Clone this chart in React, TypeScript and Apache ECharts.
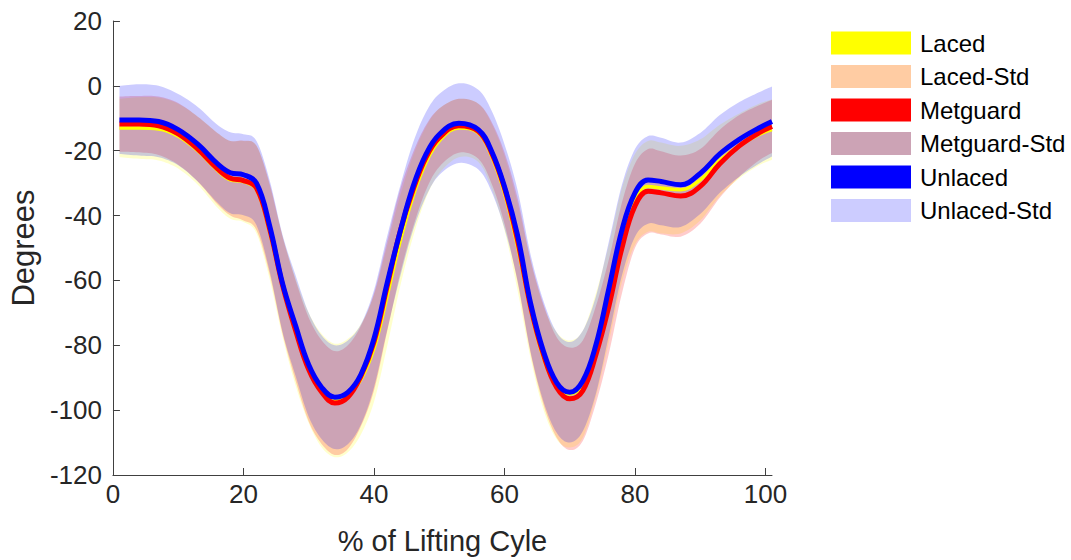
import React, { useEffect, useRef } from "react";
import * as echarts from "echarts";

const xPoints = [1, 4, 7, 10, 13, 16, 18, 20, 22, 24, 26, 28, 30, 32, 34, 36, 38, 40, 42, 44, 46, 48, 50, 53, 56, 58, 60, 62, 64, 66, 68, 70, 72, 74, 76, 78, 80, 82, 84, 87, 90, 93, 96, 99, 101];

const lacedMean = [-13, -13, -13.3, -15.5, -20, -26, -29, -29.5, -32, -45, -62, -76, -87, -94, -97, -95.5, -90.5, -81, -65, -48, -34, -23.5, -17, -13, -14.5, -21.5, -33, -49.5, -69, -84, -92.5, -95, -92, -80, -64, -46, -35, -31, -31.5, -32, -29, -23, -18.5, -15, -13.5];
const metguardMean = [-11.8, -11.8, -12.3, -14.8, -19.5, -25.5, -28.5, -29.2, -31.5, -44, -61.5, -75.5, -87.5, -94.5, -97.8, -96, -89.5, -79, -62, -45, -32, -22, -16, -12.3, -14, -20.5, -31.5, -47.5, -68, -83, -93, -96.5, -94, -83, -68, -50, -37, -32.5, -33, -34, -31, -24, -18.5, -14.5, -12.5];
const unlacedMean = [-10.5, -10.5, -11, -13.5, -18, -24, -26.8, -27.4, -30, -43, -61, -74, -86, -93, -96, -94.5, -89, -78, -61, -45, -31, -21, -15, -11.5, -13.5, -20, -31, -46, -67, -82, -91.5, -94.5, -91, -80, -62.5, -44.5, -33, -29, -29.5, -30.5, -27, -21, -16.5, -13, -11];

const lacedStd = [9, 9.5, 9.7, 10, 10.5, 11.5, 12, 12.5, 13.5, 14.5, 15.5, 16.5, 17, 17.5, 17.5, 17.5, 17, 16.5, 15.5, 14, 12.5, 11, 10, 9, 9, 10, 11.5, 13.5, 15, 16, 16.5, 16.5, 16.5, 16, 15, 14.5, 14, 14, 14, 13.5, 12.5, 11, 10, 9.5, 9.3];
const metguardStd = [8.5, 8.7, 9, 9.5, 10, 11, 11.5, 12.3, 13, 14, 15, 15.5, 16, 16, 16, 16, 15.5, 15, 14, 13, 11.5, 10, 9, 8.3, 8.5, 9.5, 11, 13, 14.5, 15.5, 15.5, 15.8, 15.5, 15, 14.5, 14, 13, 13, 12.8, 12.5, 11.5, 10.5, 9.5, 8.5, 8.2];
const unlacedStd = [10.5, 11, 11, 11, 11.5, 12, 12.5, 12.5, 13, 14, 15, 15.5, 16, 16, 16, 16, 15.5, 15, 14.5, 14, 13.5, 13, 12.5, 12.3, 12.3, 12.5, 13, 14, 15, 15.5, 15.5, 15.5, 15.5, 15, 14.5, 14, 13.5, 13.5, 13.5, 13, 12.5, 12, 11.5, 11, 10.8];

const xTicks = [0, 20, 40, 60, 80, 100];
const yTicks = [-120, -100, -80, -60, -40, -20, 0, 20];

const legendNames = ["Laced", "Laced-Std", "Metguard", "Metguard-Std", "Unlaced", "Unlaced-Std"];
const legendColors = ["#FFFF00", "#FFCCA3", "#FF0000", "#CCA3B5", "#0000FF", "#CCCCFF"];

const FONT = "'Liberation Sans', Arial, sans-serif";
const TEXT = "#262626";

// Catmull-Rom densify in pixel space (points already mapped by api.coord)
function densify(pts: number[][], steps: number): number[][] {
  const out: number[][] = [];
  const n = pts.length;
  for (let i = 0; i < n - 1; i++) {
    const p0 = pts[Math.max(0, i - 1)];
    const p1 = pts[i];
    const p2 = pts[i + 1];
    const p3 = pts[Math.min(n - 1, i + 2)];
    for (let s = 0; s < steps; s++) {
      const t = s / steps;
      const t2 = t * t;
      const t3 = t2 * t;
      const f = (a: number, b: number, c: number, d: number) =>
        0.5 * (2 * b + (-a + c) * t + (2 * a - 5 * b + 4 * c - d) * t2 + (-a + 3 * b - 3 * c + d) * t3);
      out.push([f(p0[0], p1[0], p2[0], p3[0]), f(p0[1], p1[1], p2[1], p3[1])]);
    }
  }
  out.push(pts[n - 1]);
  return out;
}

function bandSeries(name: string, mean: number[], sd: number[], color: string) {
  return {
    type: "custom",
    name,
    data: [0],
    z: 1,
    silent: true,
    itemStyle: { color },
    renderItem: (params: any, api: any) => {
      if (params.dataIndex !== 0) return null;
      const upper = xPoints.map((x, i) => api.coord([x, mean[i] + sd[i]]));
      const lower = xPoints.map((x, i) => api.coord([x, mean[i] - sd[i]]));
      const up = densify(upper, 8);
      const lo = densify(lower, 8).reverse();
      return {
        type: "polygon",
        shape: { points: up.concat(lo) },
        style: { fill: color, opacity: 0.2 },
      };
    },
  };
}

function meanSeries(name: string, mean: number[], color: string, width: number, z: number) {
  return {
    type: "line",
    name,
    data: mean.map((m, i) => [xPoints[i], m]),
    smooth: 0.4,
    showSymbol: false,
    symbol: "none",
    lineStyle: { color, width },
    itemStyle: { color },
    z,
    silent: true,
  };
}

export default function App() {
  const ref = useRef<HTMLDivElement>(null);
  useEffect(() => {
    document.body.style.margin = "0";
    const chart = echarts.init(ref.current!, undefined, { renderer: "svg" });
    const option = {
      animation: false,
      backgroundColor: "#ffffff",
      grid: { left: 110, right: 299, top: 21, bottom: 84, containLabel: false },
      legend: {
        orient: "vertical",
        left: 831,
        top: 31,
        padding: 0,
        itemWidth: 80,
        itemHeight: 23,
        itemGap: 9.5,
        icon: "rect",
        selectedMode: false,
        textStyle: { fontFamily: FONT, fontSize: 24, color: "#000", padding: [0, 0, 0, 4] },
        data: legendNames.map((n, i) => ({
          name: n,
          icon: "rect",
          itemStyle: { color: legendColors[i], borderWidth: 0, opacity: 1 },
          lineStyle: { width: 0, opacity: 0 },
        })),
      },
      xAxis: {
        type: "value",
        min: 0,
        max: 101,
        name: "% of Lifting Cyle",
        nameLocation: "middle",
        nameGap: 51,
        nameTextStyle: { fontFamily: FONT, fontSize: 29, color: TEXT },
        axisLine: { show: true, onZero: false, lineStyle: { color: "#404040", width: 1 } },
        axisTick: { show: true, inside: true, length: 7, lineStyle: { color: "#404040" }, customValues: xTicks },
        axisLabel: { fontFamily: FONT, fontSize: 26, color: TEXT, margin: 6, customValues: xTicks },
        splitLine: { show: false },
      },
      yAxis: {
        type: "value",
        min: -120,
        max: 20,
        interval: 20,
        name: "Degrees",
        nameLocation: "middle",
        nameGap: 66,
        nameTextStyle: { fontFamily: FONT, fontSize: 31, color: TEXT },
        axisLine: { show: true, onZero: false, lineStyle: { color: "#404040", width: 1 } },
        axisTick: { show: true, inside: true, length: 7, lineStyle: { color: "#404040" }, customValues: yTicks },
        axisLabel: { fontFamily: FONT, fontSize: 26, color: TEXT, margin: 11, customValues: yTicks },
        splitLine: { show: false },
      },
      series: [
        bandSeries("Laced-Std", lacedMean, lacedStd, "#FFFF00"),
        bandSeries("Metguard-Std", metguardMean, metguardStd, "#FF0000"),
        bandSeries("Unlaced-Std", unlacedMean, unlacedStd, "#0000FF"),
        meanSeries("Laced", lacedMean, "#FFFF00", 3.5, 5),
        meanSeries("Metguard", metguardMean, "#FF0000", 5, 6),
        meanSeries("Unlaced", unlacedMean, "#0000FF", 5, 7),
      ],
    };
    chart.setOption(option as any);
    return () => chart.dispose();
  }, []);
  return <div ref={ref} style={{ width: 1071, height: 560 }} />;
}
